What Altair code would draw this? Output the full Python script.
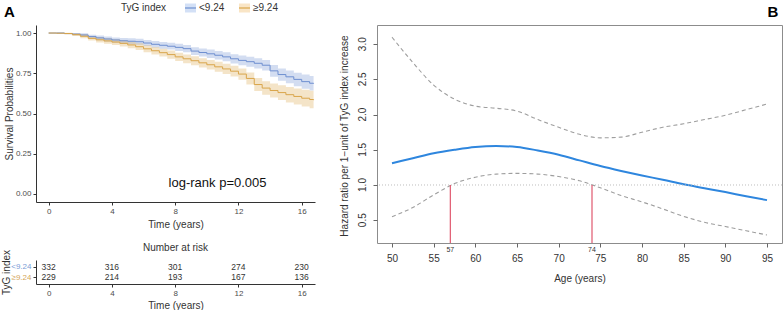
import altair as alt
import pandas as pd

FONT = "Liberation Sans"

# ---------------- Panel A: Kaplan-Meier ----------------
groups = ["<9.24", "≥9.24"]
legend_title = ["TyG index"]
km_time = [0, 0.5, 1, 1.5, 2, 2.5, 3, 3.5, 4, 4.5, 5, 5.5, 6, 6.5, 7, 7.5, 8, 8.5,
           9, 9.5, 10, 10.5, 11, 11.5, 12, 12.5, 13, 13.5, 14, 14.5, 15, 15.5, 16, 16.5, 16.75]
surv_low = [1.000, 1.000, 0.997, 0.993, 0.988, 0.978, 0.970, 0.963, 0.957, 0.952, 0.949, 0.946,
            0.938, 0.930, 0.924, 0.918, 0.911, 0.903, 0.888, 0.879, 0.871, 0.862, 0.852, 0.840,
            0.830, 0.822, 0.812, 0.800, 0.765, 0.742, 0.728, 0.712, 0.698, 0.688, 0.685]
surv_high = [1.000, 0.999, 0.997, 0.990, 0.980, 0.967, 0.958, 0.951, 0.944, 0.936, 0.926, 0.915,
             0.902, 0.890, 0.878, 0.866, 0.852, 0.840, 0.828, 0.815, 0.803, 0.790, 0.777, 0.763,
             0.745, 0.718, 0.680, 0.658, 0.643, 0.630, 0.617, 0.606, 0.595, 0.587, 0.583]
ci_half_low = [0, 0.002, 0.004, 0.007, 0.010, 0.012, 0.014, 0.015, 0.016, 0.017, 0.018, 0.018,
               0.019, 0.020, 0.021, 0.021, 0.022, 0.023, 0.024, 0.025, 0.026, 0.027, 0.028, 0.029,
               0.030, 0.031, 0.032, 0.033, 0.036, 0.038, 0.040, 0.042, 0.044, 0.045, 0.046]
ci_half_high = [0, 0.003, 0.005, 0.009, 0.012, 0.014, 0.016, 0.017, 0.018, 0.019, 0.020, 0.021,
                0.022, 0.023, 0.024, 0.025, 0.026, 0.027, 0.028, 0.029, 0.030, 0.031, 0.032, 0.033,
                0.035, 0.037, 0.040, 0.042, 0.044, 0.046, 0.048, 0.050, 0.052, 0.054, 0.055]
km_ticks = [0, 4, 8, 12, 16]
surv_ticks = [0, 0.25, 0.5, 0.75, 1.0]
risk_times = [0, 4, 8, 12, 16]
risk_low = [332, 316, 301, 274, 230]
risk_high = [229, 214, 193, 167, 136]
logrank_label = ["log-rank p=0.005"]
logrank_pos = [10.68, 0.07]

# ---------------- Panel B: restricted cubic spline HR ----------------
ages = [50, 52.5, 55, 57.5, 60, 62.5, 65, 67.5, 70, 72.5, 75, 77.5, 80, 82.5, 85, 87.5, 90, 92.5, 95]
hr = [1.31, 1.38, 1.45, 1.50, 1.54, 1.555, 1.54, 1.49, 1.43, 1.35, 1.27, 1.20, 1.135, 1.075,
      1.01, 0.955, 0.90, 0.84, 0.785]
hr_upper = [3.10, 2.74, 2.42, 2.22, 2.12, 2.09, 2.05, 1.93, 1.82, 1.72, 1.67, 1.68, 1.75, 1.82,
            1.87, 1.93, 1.99, 2.07, 2.15]
hr_lower = [0.55, 0.68, 0.86, 1.02, 1.11, 1.155, 1.165, 1.155, 1.12, 1.06, 0.96, 0.85, 0.76, 0.66,
            0.555, 0.47, 0.41, 0.35, 0.29]
cut_ages = [57, 74]
ref_hr = [1.0]
age_ticks = [50, 55, 60, 65, 70, 75, 80, 85, 90, 95]
hr_ticks = [0.5, 1.0, 1.5, 2.0, 2.5, 3.0]
hr_tick_labels = ["0.5", "1.0", "1.5", "2.0", "2.5", "3.0"]
b_y_title = ["Hazard ratio per 1\u2212unit of TyG index increase"]

BLUE = "#6E8FD0"
ORANGE = "#D9A54A"
BLUE_BAND = "#D3E0F6"
ORANGE_BAND = "#F9E5C6"
BLUE_TXT = "#7A9BD6"
ORANGE_TXT = "#D4A65A"
TXT = "#333333"

# ---------- build tables ----------
rows = []
for g, s, h in [(groups[0], surv_low, ci_half_low), (groups[1], surv_high, ci_half_high)]:
    for t, v, w in zip(km_time, s, h):
        rows.append({"time": t, "surv": v, "lo": v - w, "hi": v + w, "group": g})
km_df = pd.DataFrame(rows)

risk_rows = []
for g, ns in [(groups[0], risk_low), (groups[1], risk_high)]:
    for t, n in zip(risk_times, ns):
        risk_rows.append({"time": t, "group": g, "n": str(n)})
risk_df = pd.DataFrame(risk_rows)

one = pd.DataFrame({"k": [0]})

KM_W, KM_H = 279, 177
x_km = alt.Scale(domain=[-0.8, 16.84], nice=False, zero=False)
y_km = alt.Scale(domain=[-0.05, 1.05], nice=False, zero=False)
color_scale = alt.Scale(domain=groups, range=[BLUE, ORANGE])

km_x_axis = alt.Axis(values=km_ticks, title="Time (years)", grid=False, labelFontSize=8,
                     labelColor="#4D4D4D", tickSize=3, labelPadding=2, titleFontSize=10,
                     titleColor=TXT, titleFontWeight="normal", titlePadding=4,
                     domainColor="#333", tickColor="#333")
km_y_axis = alt.Axis(values=surv_ticks, format=".2f", title="Survival Probabilities",
                     grid=False, labelFontSize=8, labelColor="#4D4D4D", tickSize=3,
                     labelPadding=2, titleFontSize=10, titleColor=TXT,
                     titleFontWeight="normal", titleX=-22,
                     domainColor="#333", tickColor="#333")

bands = alt.Chart(km_df).mark_area(interpolate="step-after", opacity=0.3).encode(
    x=alt.X("time:Q", scale=x_km, axis=km_x_axis),
    y=alt.Y("lo:Q", scale=y_km, axis=km_y_axis),
    y2="hi:Q",
    fill=alt.Fill("group:N", scale=color_scale, legend=None),
)
lines = alt.Chart(km_df).mark_line(interpolate="step-after", strokeWidth=1).encode(
    x=alt.X("time:Q", scale=x_km, axis=km_x_axis),
    y=alt.Y("surv:Q", scale=y_km, axis=km_y_axis),
    color=alt.Color("group:N", scale=color_scale, legend=None),
)
logrank = alt.Chart(pd.DataFrame({"t": [logrank_pos[0]], "s": [logrank_pos[1]],
                                  "lab": logrank_label})).mark_text(
    fontSize=13, color="#111", align="center", baseline="middle").encode(
    x=alt.X("t:Q", scale=x_km), y=alt.Y("s:Q", scale=y_km), text="lab:N")
label_a = alt.Chart(one).mark_text(fontSize=15, fontWeight="bold", align="left",
                                   baseline="middle", color="#000").encode(
    x=alt.value(-32), y=alt.value(-13), text=alt.value("A"))
anchor = alt.Chart(one).mark_rule(opacity=0).encode(
    x=alt.value(-36), y=alt.value(-25), y2=alt.value(-25))

# legend (top), built from the group names
LEG_Y = -17
leg_layers = [
    alt.Chart(one).mark_text(fontSize=10, color=TXT, align="left", baseline="middle").encode(
        x=alt.value(85), y=alt.value(LEG_Y), text=alt.value(legend_title[0]))
]
for sx, lx, g, c, band in [(149, 163, groups[0], BLUE, BLUE_BAND),
                           (203, 217, groups[1], ORANGE, ORANGE_BAND)]:
    leg_layers.append(alt.Chart(one).mark_rule(color=band, strokeWidth=9).encode(
        x=alt.value(sx), x2=alt.value(sx + 11), y=alt.value(LEG_Y)))
    leg_layers.append(alt.Chart(one).mark_rule(color=c, strokeWidth=1.2).encode(
        x=alt.value(sx), x2=alt.value(sx + 11), y=alt.value(LEG_Y)))
    leg_layers.append(alt.Chart(one).mark_text(fontSize=10, color=TXT, align="left",
                                               baseline="middle").encode(
        x=alt.value(lx), y=alt.value(LEG_Y), text=alt.value(g)))

km_chart = alt.layer(bands, lines, logrank, label_a, anchor, *leg_layers).properties(
    width=KM_W, height=KM_H)

# ---------- risk table ----------
TBL_H = 24
tbl_x_axis = alt.Axis(values=km_ticks, title="Time (years)", grid=False, labelFontSize=8,
                      labelColor="#4D4D4D", tickSize=3, labelPadding=2, titleFontSize=10,
                      titleColor=TXT, titleFontWeight="normal", titlePadding=3,
                      domainColor="#333", tickColor="#333")
risk_text = alt.Chart(risk_df).mark_text(fontSize=8.5, color=TXT).encode(
    x=alt.X("time:Q", scale=x_km, axis=tbl_x_axis),
    y=alt.Y("group:N", sort=groups, scale=alt.Scale(type="point", padding=0.63),
            axis=alt.Axis(title="TyG index", labelFontSize=8, tickSize=3, labelPadding=2,
                          labelColor=alt.condition("datum.value == '<9.24'",
                                                   alt.value(BLUE_TXT), alt.value(ORANGE_TXT)),
                          titleFontSize=10, titleColor=TXT, titleFontWeight="normal",
                          titleX=-25, domainColor="#333", tickColor="#333")),
    text="n:N",
)
risk_title = alt.Chart(one).mark_text(fontSize=10, color=TXT, align="center",
                                      baseline="middle").encode(
    x=alt.value(KM_W / 2), y=alt.value(-12), text=alt.value("Number at risk"))
risk_chart = alt.layer(risk_text, risk_title).properties(width=KM_W, height=TBL_H)

# ---------- Panel B ----------
B_W, B_H = 405, 218
b_df = pd.DataFrame({"age": ages, "hr": hr, "up": hr_upper, "lo": hr_lower})
x_b = alt.Scale(domain=[48.2, 96.8], nice=False, zero=False)
y_b = alt.Scale(domain=[0.176, 3.273], nice=False, zero=False)

b_x_axis = alt.Axis(values=age_ticks, title="Age (years)", grid=False, domain=False,
                    labelFontSize=10, labelColor=TXT, tickSize=4, tickColor="#666",
                    labelPadding=6, titleFontSize=10, titleColor=TXT, titleFontWeight="normal",
                    titleY=30, titleBaseline="top")
b_y_axis = alt.Axis(values=hr_ticks, grid=False, domain=False, labels=False, title=None,
                    tickSize=4, tickColor="#666")


def bx(field):
    return alt.X(field, scale=x_b, axis=b_x_axis)


def by(field):
    return alt.Y(field, scale=y_b, axis=b_y_axis)


main = alt.Chart(b_df).mark_line(color="#2E86DE", strokeWidth=2, interpolate="monotone").encode(
    x=bx("age:Q"), y=by("hr:Q"))
upper = alt.Chart(b_df).mark_line(color="#9E9E9E", strokeDash=[4, 3], strokeWidth=1.1,
                                  interpolate="monotone").encode(x=bx("age:Q"), y=by("up:Q"))
lower = alt.Chart(b_df).mark_line(color="#9E9E9E", strokeDash=[4, 3], strokeWidth=1.1,
                                  interpolate="monotone").encode(x=bx("age:Q"), y=by("lo:Q"))
ref = alt.Chart(pd.DataFrame({"v": ref_hr})).mark_rule(
    color="#BDBDBD", strokeDash=[1, 2], strokeWidth=1).encode(y=by("v:Q"))
cuts_df = pd.DataFrame({"age": cut_ages, "v": [ref_hr[0]] * len(cut_ages),
                        "lab": [str(a) for a in cut_ages]})
cut_rules = alt.Chart(cuts_df).mark_rule(color="#E0586E", strokeWidth=1.2).encode(
    x=bx("age:Q"), y=by("v:Q"), y2=alt.value(B_H))
cut_text = alt.Chart(cuts_df).mark_text(fontSize=7, color=TXT, baseline="middle").encode(
    x=bx("age:Q"), y=alt.value(B_H + 7), text="lab:N")
ytick_text = alt.Chart(pd.DataFrame({"v": hr_ticks, "lab": hr_tick_labels})).mark_text(
    fontSize=10, color=TXT, angle=270, align="center", baseline="middle").encode(
    x=alt.value(-14), y=by("v:Q"), text="lab:N")
ytitle = alt.Chart(one).mark_text(fontSize=10, color=TXT, angle=270, align="center",
                                  baseline="middle").encode(
    x=alt.value(-32), y=alt.value(111), text=alt.value(b_y_title[0]))
label_b = alt.Chart(one).mark_text(fontSize=15, fontWeight="bold", align="center",
                                   baseline="middle", color="#000").encode(
    x=alt.value(396), y=alt.value(-13), text=alt.value("B"))

b_chart = alt.layer(main, upper, lower, ref, cut_rules, cut_text, ytick_text, ytitle,
                    label_b).properties(
    width=B_W, height=B_H,
    view=alt.ViewBackground(stroke="#8C8C8C", strokeWidth=1))

chart = alt.concat(km_chart, b_chart, risk_chart, columns=2, bounds="flush", align="each",
                   spacing={"row": 17, "column": 62}).properties(
    padding={"left": 0, "top": 0, "right": 0, "bottom": 0}
).configure_view(strokeWidth=0).configure_axis(
    labelFont=FONT, titleFont=FONT
).configure_text(font=FONT).configure_legend(labelFont=FONT, titleFont=FONT
).configure_title(font=FONT)

chart.save("out.html", embed_options={"renderer": "svg", "actions": False})
